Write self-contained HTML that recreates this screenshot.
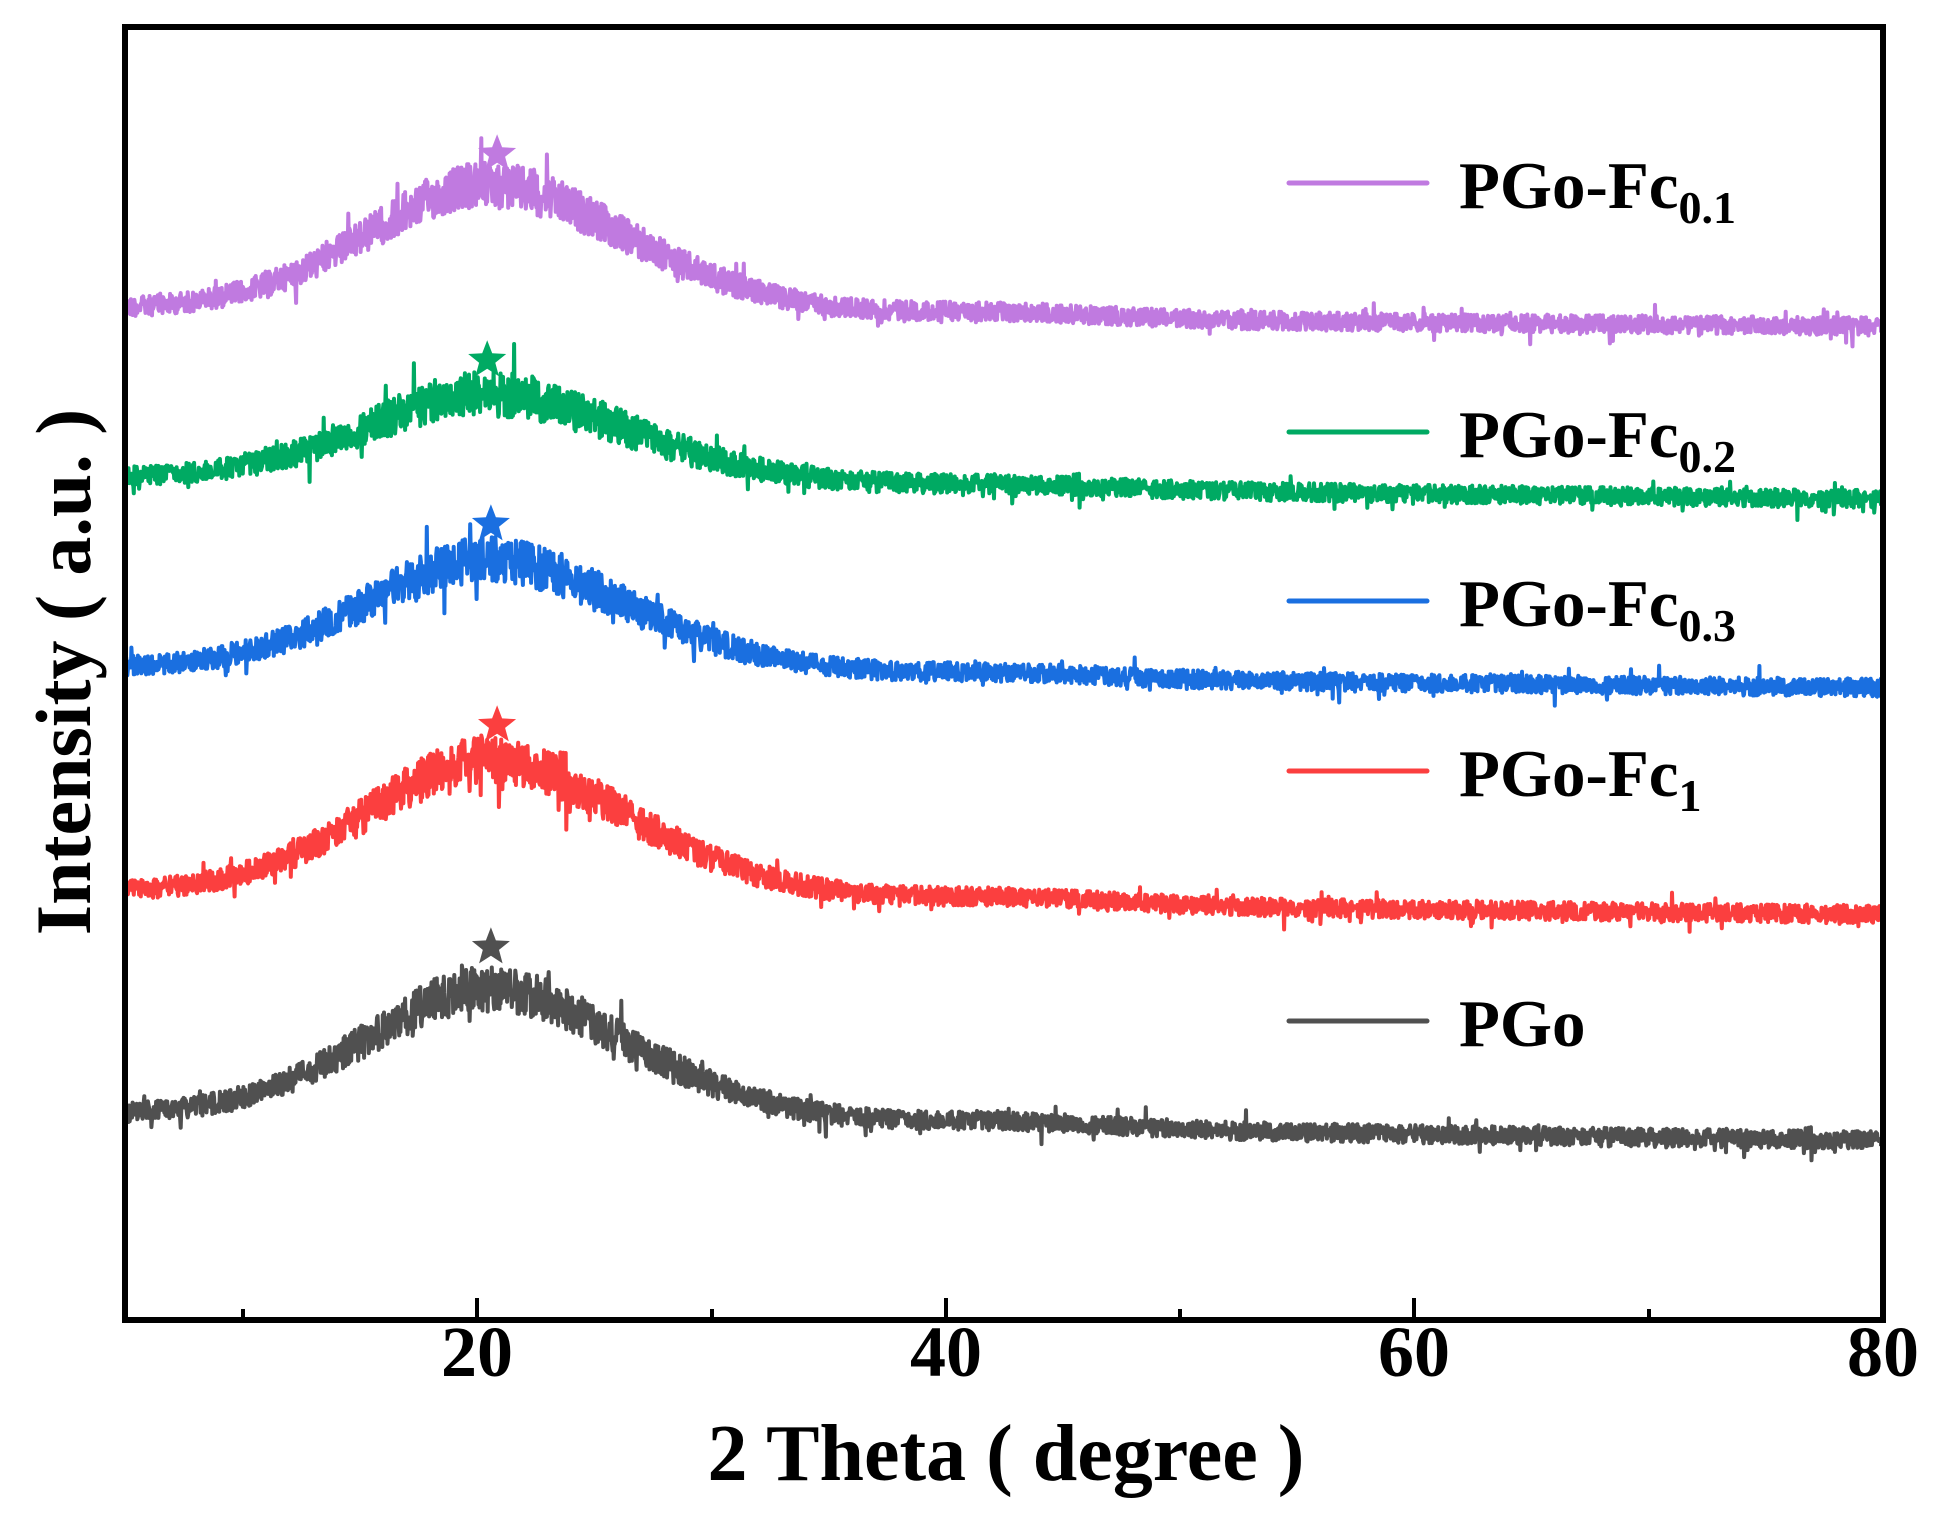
<!DOCTYPE html>
<html><head><meta charset="utf-8"><style>
html,body{margin:0;padding:0;background:#fff;}
svg{display:block;}
text{font-family:"Liberation Serif",serif;font-weight:bold;fill:#000;}
</style></head><body>
<svg id="s" width="1934" height="1513" viewBox="0 0 1934 1513" xmlns="http://www.w3.org/2000/svg">
<g id="curves"></g>
<rect x="125" y="27" width="1758" height="1293" fill="none" stroke="#000" stroke-width="6"/>
<g stroke="#000" stroke-width="4">
<line x1="243" y1="1320" x2="243" y2="1309"/>
<line x1="477" y1="1320" x2="477" y2="1298"/>
<line x1="712" y1="1320" x2="712" y2="1309"/>
<line x1="946" y1="1320" x2="946" y2="1298"/>
<line x1="1180" y1="1320" x2="1180" y2="1309"/>
<line x1="1414" y1="1320" x2="1414" y2="1298"/>
<line x1="1649" y1="1320" x2="1649" y2="1309"/>
</g>
<g font-size="72" text-anchor="middle">
<text x="477" y="1376">20</text>
<text x="946" y="1376">40</text>
<text x="1414" y="1376">60</text>
<text x="1883" y="1376">80</text>
</g>
<text x="1006" y="1480" font-size="80" text-anchor="middle">2 Theta ( degree )</text>
<text transform="translate(90,672) rotate(-90)" font-size="78" text-anchor="middle">Intensity ( a.u. )</text>
<g stroke-width="5" stroke-linecap="round">
<line x1="1289" y1="183" x2="1427" y2="183" stroke="#c07ae0"/>
<line x1="1289" y1="432" x2="1427" y2="432" stroke="#00aa63"/>
<line x1="1289" y1="601" x2="1427" y2="601" stroke="#1a6fe0"/>
<line x1="1289" y1="771" x2="1427" y2="771" stroke="#fb3f3f"/>
<line x1="1289" y1="1021" x2="1427" y2="1021" stroke="#505050"/>
</g>
<g font-size="67">
<text x="1459" y="208">PGo-Fc<tspan font-size="46" dy="15">0.1</tspan></text>
<text x="1459" y="457">PGo-Fc<tspan font-size="46" dy="15">0.2</tspan></text>
<text x="1459" y="626">PGo-Fc<tspan font-size="46" dy="15">0.3</tspan></text>
<text x="1459" y="796">PGo-Fc<tspan font-size="46" dy="15">1</tspan></text>
<text x="1459" y="1046">PGo</text>
</g>
<g id="stars"></g>
</svg>
<script>
(function(){
var k=1.2334;
var seed=12345;function rnd(){seed=(seed*1103515245+12345)&0x7fffffff;return seed/0x7fffffff;}
var C=[
 {c:"#c07ae0",L:255,R:265,P:150,sx:403,sy:125},
 {c:"#00aa63",L:390,R:405,P:318,sx:395,sy:292},
 {c:"#1a6fe0",L:545,R:558,P:453,sx:398,sy:425},
 {c:"#fb3f3f",L:728,R:742,P:615,sx:403,sy:588},
 {c:"#505050",L:908,R:925,P:800,sx:398,sy:768}
];
var g=document.getElementById('curves'),st=document.getElementById('stars');
var ns="http://www.w3.org/2000/svg";
C.forEach(function(o){
 var pts=[];
 var H=(o.L+2-o.P)*k;
 for(var t=5;t<=80.001;t+=0.025){
  var x=125+(t-5)*23.44;
  var base=(o.L+(o.R-o.L)*(t-5)/75)*k;
  var d=t-20.5,s=d<0?5.2:6.2;
  var pk=0.72*Math.exp(-d*d/(2*s*s))+0.28/(1+(d/7)*(d/7));
  var hump=0.04*Math.exp(-(t-43)*(t-43)/40);
  var amp=9+14*pk;
  var n=(rnd()-0.5)*2*amp;
  if(rnd()<0.04) n+=(rnd()-0.5)*3*amp;
  var y=base-H*(pk+hump)+n;
  if(x>1881)x=1881;
  pts.push(x.toFixed(1)+","+y.toFixed(1));
 }
 var p=document.createElementNS(ns,"polyline");
 p.setAttribute("points",pts.join(" "));
 p.setAttribute("fill","none");p.setAttribute("stroke",o.c);
 p.setAttribute("stroke-width","4");p.setAttribute("stroke-linejoin","round");
 g.appendChild(p);
 var cx=o.sx*k,cy=o.sy*k,R=20,r=8.5,sp=[];
 for(var i=0;i<10;i++){var a=-Math.PI/2+i*Math.PI/5,rr=i%2?r:R;sp.push((cx+rr*Math.cos(a)).toFixed(1)+","+(cy+rr*Math.sin(a)).toFixed(1));}
 var pg=document.createElementNS(ns,"polygon");
 pg.setAttribute("points",sp.join(" "));pg.setAttribute("fill",o.c);
 st.appendChild(pg);
});
})();
</script>
</body></html>
